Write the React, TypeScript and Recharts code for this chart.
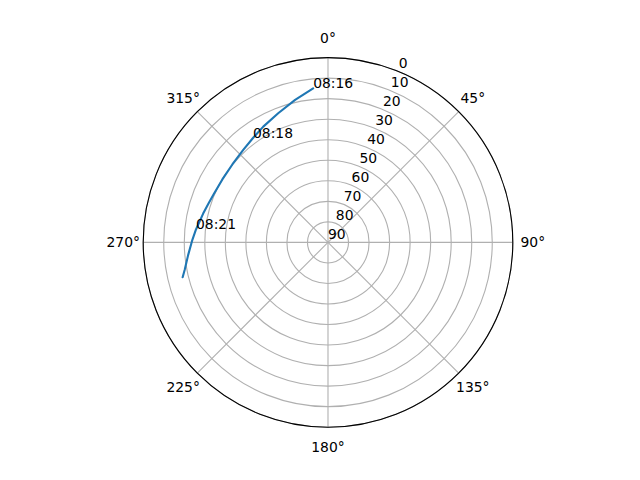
import { RadarChart, Radar, PolarGrid, PolarAngleAxis, PolarRadiusAxis } from 'recharts';

const FONT = '"DejaVu Sans", sans-serif';

// pass track: azimuth (deg, clockwise from north) and elevation (deg)
const azimuth = [354.5, 347.0, 338.9, 330.8, 324.3, 317.5, 309.3, 300.8, 292.8, 288.0, 283.0, 275.6, 271.0, 264.8, 259.1, 256.5];
const elevation = [14.6, 18.8, 22.6, 25.4, 27.4, 28.9, 29.9, 30.1, 29.6, 28.8, 27.6, 25.4, 23.9, 21.6, 18.9, 17.2];
const timeLabels = ['08:16', '', '', '', '08:18', '', '', '', '', '', '', '08:21', '', '', '', ''];

const angleTicks = [0, 45, 90, 135, 180, 225, 270, 315];
const radiusTicks = [0, 10, 20, 30, 40, 50, 60, 70, 80, 90];

// radius plotted as zenith distance so 90° elevation sits in the middle
const track = azimuth.map((az, i) => ({ az, zenith: 90 - elevation[i], time: timeLabels[i] }));
// Radar always closes its polygon, so walk the track back over itself (unlabelled)
// so the closing segment lies on top of the line instead of cutting across
const data = [
  ...track,
  ...track.slice(1, -1).reverse().map((p) => ({ ...p, time: '' })),
];

function AngleTick(props: any) {
  const { x, y, payload } = props;
  return (
    <text x={x} y={y} dy={5} textAnchor="middle" fontSize={13.9} fill="#000" fontFamily={FONT}>
      {payload.value}°
    </text>
  );
}

function RadiusTick(props: any) {
  const { x, y, payload } = props;
  return (
    <text x={x} y={y - 3.3} textAnchor="start" fontSize={13.9} fill="#000" fontFamily={FONT}>
      {90 - payload.value}
    </text>
  );
}

function TimeLabel(props: any) {
  const entry = props.payload?.payload ?? props.payload;
  if (!entry || !entry.time || !Number.isFinite(props.cx)) return null;
  return (
    <text key={props.index} x={props.cx} y={props.cy} textAnchor="start" fontSize={13.9} fill="#000" fontFamily={FONT}>
      {entry.time}
    </text>
  );
}

export default function App() {
  return (
    <div style={{ position: 'absolute', left: 0, top: 0, width: 640, height: 480, background: '#fff' }}>
      <RadarChart
        width={640}
        height={480}
        data={data}
        cx={328}
        cy={242.4}
        outerRadius={184.8}
        startAngle={90}
        endAngle={-270}
        margin={{ top: 0, right: 0, bottom: 0, left: 0 }}
        style={{ fontFamily: FONT }}
      >
        <PolarGrid gridType="circle" stroke="#b0b0b0" strokeWidth={1.1} />
        <PolarAngleAxis
          dataKey="az"
          type="number"
          domain={[0, 360]}
          ticks={angleTicks}
          tick={AngleTick}
          tickLine={false}
          tickSize={20}
          stroke="#000"
          axisLine={{ stroke: '#000', strokeWidth: 1.1 }}
          axisLineType="circle"
        />
        <PolarRadiusAxis
          angle={67.5}
          type="number"
          domain={[0, 90]}
          ticks={radiusTicks}
          tick={RadiusTick}
          axisLine={false}
        />
        <Radar
          dataKey="zenith"
          stroke="#1f77b4"
          strokeWidth={2.1}
          strokeLinejoin="round"
          fill="none"
          fillOpacity={0}
          dot={TimeLabel}
          isAnimationActive={false}
        />
      </RadarChart>
    </div>
  );
}
